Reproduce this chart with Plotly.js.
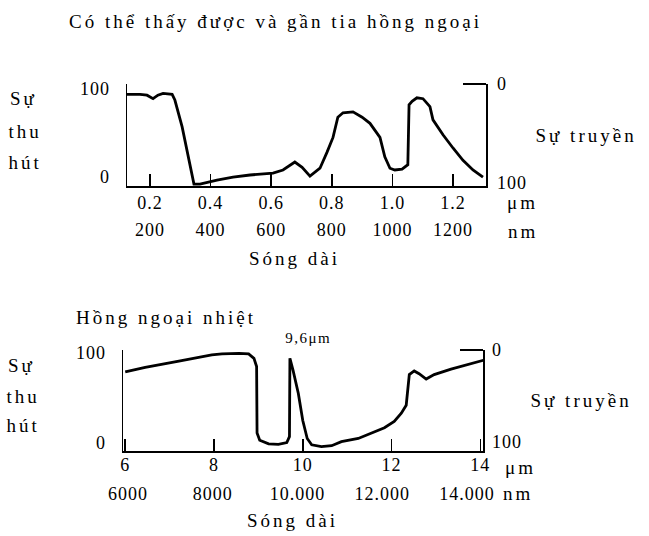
<!DOCTYPE html>
<html>
<head>
<meta charset="utf-8">
<script src="https://cdn.plot.ly/plotly-3.0.1.min.js"></script>
<style>
  html, body { margin: 0; padding: 0; background: #fff; }
  #chart { width: 649px; height: 536px; }
  .js-plotly-plot text { letter-spacing: 1px; }
  .js-plotly-plot .annotation-text { letter-spacing: 3px; }
  .js-plotly-plot .annotation[data-index="12"] .annotation-text { letter-spacing: 1.5px; }
</style>
</head>
<body>
<div id="chart"></div>
<script>
// ---- Top chart: visible and near infrared (wavelength in µm, absorption %) ----
const topWavelengthUm = [0.124,0.167,0.190,0.210,0.226,0.243,0.273,0.282,0.306,0.322,
  0.339,0.345,0.365,0.421,0.474,0.530,0.606,0.639,0.678,0.702,
  0.728,0.761,0.784,0.804,0.820,0.837,0.870,0.900,0.926,0.959,
  0.975,0.992,1.008,1.032,1.051,1.055,1.065,1.081,1.101,1.124,
  1.134,1.167,1.200,1.233,1.266,1.299];
const topAbsorption = [94,94,93,89,93,95,94,87.5,57,31,
  0,-8,-8,-3.4,0,2.3,4.5,8,17,11,
  1,10,28,45,68,73,74,68,61,45,
  23,10,8,9,14,82,86,90,89,80,
  65,48,33,19,8,0];
const topTickUm = [0.2,0.4,0.6,0.8,1.0,1.2];
const topTickUmText = ['0.2','0.4','0.6','0.8','1.0','1.2'];
const topTickNmText = ['200','400','600','800','1000','1200'];

// ---- Bottom chart: thermal infrared ----
const botWavelengthUm = [6.0,6.45,7.21,7.95,8.18,8.56,8.78,8.9,8.96,8.97,
  9.03,9.23,9.45,9.64,9.70,9.71,9.78,9.9,10.0,10.1,
  10.2,10.42,10.65,10.87,11.25,11.54,11.84,12.06,12.22,12.33,
  12.37,12.4,12.51,12.62,12.78,12.96,13.34,13.72,14.08];
const botAbsorption = [79,84,91,98,99,99.6,99,94,85,11,
  3,-1,-1.5,0.4,7,94,81,55,25,5,
  -2,-4,-3,1.5,5,11,17,24,33,42,
  63,76,80,77,71,76,82,87,92];
const botTickUm = [6,8,10,12,14];
const botTickUmText = ['6','8','10','12','14'];
const botTickNm = [6000,8000,10000,12000,14000];
const botTickNmText = ['6000','8000','10.000','12.000','14.000'];

const absTickVals = [0,100];
const absTickText = ['0','100'];
const transTickVals = [0,100];
const transTickText = ['0','100'];

const FONT = 'Liberation Serif, Times New Roman, serif';
const W = 649, H = 536;
const px = v => v / W;
const py = v => 1 - v / H;

const lineStyle = {color: '#000', width: 2.8};
const traces = [
  {x: topWavelengthUm, y: topAbsorption, xaxis: 'x', yaxis: 'y', mode: 'lines', line: lineStyle, hoverinfo: 'skip'},
  {x: topWavelengthUm, y: topAbsorption, xaxis: 'x2', yaxis: 'y2', mode: 'lines', opacity: 0, hoverinfo: 'skip'},
  {x: botWavelengthUm, y: botAbsorption, xaxis: 'x3', yaxis: 'y3', mode: 'lines', line: lineStyle, hoverinfo: 'skip'},
  {x: botWavelengthUm.map(v => v * 1000), y: botAbsorption, xaxis: 'x4', yaxis: 'y4', mode: 'lines', opacity: 0, hoverinfo: 'skip'}
];

const tickFont = {family: FONT, size: 18, color: '#000'};
const axBase = {showgrid: false, zeroline: false, fixedrange: true, tickfont: tickFont};

const layout = {
  width: W, height: H,
  margin: {l: 0, r: 0, t: 0, b: 0},
  paper_bgcolor: '#fff', plot_bgcolor: 'rgba(0,0,0,0)',
  showlegend: false,
  font: {family: FONT, color: '#000'},
  xaxis: Object.assign({}, axBase, {
    domain: [px(127), px(486)], anchor: 'y', range: [0.124, 1.309],
    showline: true, linecolor: '#000', linewidth: 1.5,
    tickmode: 'array', tickvals: topTickUm, ticktext: topTickUmText,
    ticks: 'inside', ticklen: 12, tickwidth: 1.5, tickcolor: '#000',
    ticklabelstandoff: 0
  }),
  xaxis2: Object.assign({}, axBase, {
    overlaying: 'x', matches: 'x', anchor: 'y', side: 'bottom', range: [0.124, 1.309],
    showline: false, tickmode: 'array', tickvals: topTickUm, ticktext: topTickNmText,
    ticks: '', ticklabelstandoff: 31
  }),
  yaxis: Object.assign({}, axBase, {
    domain: [py(186), py(84)], anchor: 'x', range: [-10.2, 105.7],
    showline: true, linecolor: '#000', linewidth: 1.5,
    tickmode: 'array', tickvals: absTickVals, ticktext: absTickText,
    ticks: '', ticklabelstandoff: 12
  }),
  yaxis2: Object.assign({}, axBase, {
    overlaying: 'y', anchor: 'x', side: 'right', range: [103, 0],
    showline: true, linecolor: '#000', linewidth: 1.5,
    tickmode: 'array', tickvals: transTickVals, ticktext: transTickText,
    ticks: '', ticklabelstandoff: 6,
    minor: {tickmode: 'array', tickvals: [0], ticks: 'inside', ticklen: 23, tickwidth: 1.5, tickcolor: '#000'}
  }),
  xaxis3: Object.assign({}, axBase, {
    domain: [px(123), px(483)], anchor: 'y3', range: [5.95, 14.06],
    showline: true, linecolor: '#000', linewidth: 1.5,
    tickmode: 'array', tickvals: botTickUm, ticktext: botTickUmText,
    ticks: 'inside', ticklen: 12, tickwidth: 1.5, tickcolor: '#000',
    ticklabelstandoff: -3
  }),
  xaxis4: Object.assign({}, axBase, {
    overlaying: 'x3', anchor: 'y3', side: 'bottom', range: [5882, 14377],
    showline: false, tickmode: 'array', tickvals: botTickNm, ticktext: botTickNmText,
    ticks: '', ticklabelstandoff: 30
  }),
  yaxis3: Object.assign({}, axBase, {
    domain: [py(451), py(350)], anchor: 'x3', range: [-8.9, 103.3],
    showline: true, linecolor: '#000', linewidth: 1.5,
    tickmode: 'array', tickvals: absTickVals, ticktext: absTickText,
    ticks: '', ticklabelstandoff: 12
  }),
  yaxis4: Object.assign({}, axBase, {
    overlaying: 'y3', anchor: 'x3', side: 'right', range: [109.8, 0],
    showline: true, linecolor: '#000', linewidth: 1.5,
    tickmode: 'array', tickvals: transTickVals, ticktext: transTickText,
    ticks: '', ticklabelstandoff: 4,
    minor: {tickmode: 'array', tickvals: [0], ticks: 'inside', ticklen: 23, tickwidth: 1.5, tickcolor: '#000'}
  }),
  annotations: []
};

function ann(text, x, y, xanchor, size) {
  layout.annotations.push({
    text: text, xref: 'paper', yref: 'paper', x: px(x), y: py(y),
    xanchor: xanchor || 'center', yanchor: 'middle', showarrow: false,
    font: {family: FONT, size: size || 19, color: '#000'}
  });
}
ann('Có thể thấy được và gần tia hồng ngoại', 275, 21, 'center', 19);
ann('Sự', 11, 98, 'left');
ann('thu', 11, 132, 'left');
ann('hút', 11, 162, 'left');
ann('Sự truyền', 547, 135, 'left');
ann('μm', 522, 202, 'center');
ann('nm', 523, 231, 'center');
ann('Sóng dài', 294, 259, 'center');
ann('Hồng ngoại nhiệt', 98, 317, 'left');
ann('Sự', 9, 365, 'left');
ann('thu', 9, 397, 'left');
ann('hút', 9, 425, 'left');
ann('9,6μm', 308, 338, 'center', 15);
ann('Sự truyền', 542, 400, 'left');
ann('μm', 520, 467, 'center');
ann('nm', 518, 493, 'center');
ann('Sóng dài', 292, 520, 'center');

Plotly.newPlot('chart', traces, layout, {staticPlot: true, displayModeBar: false});
</script>
</body>
</html>
